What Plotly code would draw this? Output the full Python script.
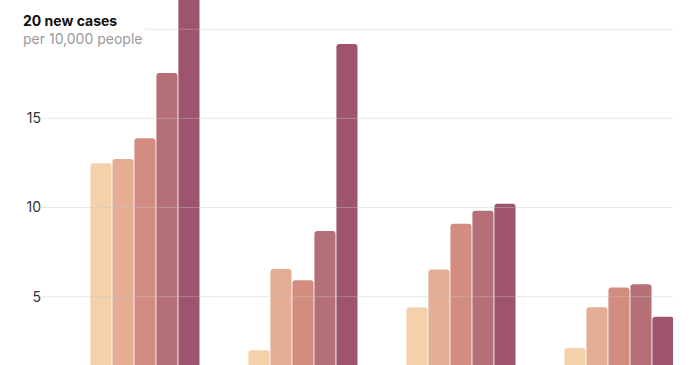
import plotly.graph_objects as go

groups = ["A", "B", "C", "D"]
series_names = ["s1", "s2", "s3", "s4", "s5"]
values = [
    [12.48, 2.0, 4.40, 2.12],
    [12.72, 6.55, 6.53, 4.40],
    [13.88, 5.92, 9.09, 5.52],
    [17.54, 8.68, 9.82, 5.69],
    [22.5, 19.17, 10.21, 3.88],
]
colors = ["#f5d1ab", "#e3ae94", "#d28d80", "#b56f76", "#9e536e"]
tick_vals = [5, 10, 15]
grid_vals = [5, 10, 15, 20]

fig = go.Figure()
for name, vals, col in zip(series_names, values, colors):
    fig.add_trace(go.Bar(x=groups, y=vals, name=name, marker=dict(color=col, line=dict(width=0)),
                         hoverinfo="skip"))

shapes = []
for g in grid_vals:
    shapes.append(dict(type="line", xref="paper", x0=0, x1=1, yref="y", y0=g, y1=g,
                       line=dict(color="rgba(200,200,200,0.4)", width=1), layer="above"))

fig.update_layout(
    width=696, height=365,
    margin=dict(l=38, r=23, t=0, b=0),
    paper_bgcolor="white", plot_bgcolor="white",
    barmode="group", bargap=0.304, bargroupgap=0.04, barcornerradius=3,
    showlegend=False,
    font=dict(family="Inter", size=14, color="#333"),
    xaxis=dict(range=[-0.677, 3.342], showticklabels=False, showgrid=False, zeroline=False,
               showline=False, ticks="", automargin=False),
    yaxis=dict(range=[1.167, 21.64], tickvals=tick_vals, ticktext=[str(v) for v in tick_vals],
               showgrid=False, zeroline=False, showline=False, ticks="", automargin=False,
               ticklabelstandoff=-4,
               tickfont=dict(family="Inter", size=14, color="#333")),
    shapes=shapes,
    annotations=[dict(
        xref="paper", yref="paper", x=(20 - 38) / 635, y=1 - 29 / 365,
        xanchor="left", yanchor="middle", align="left", showarrow=False,
        bgcolor="white", borderpad=2,
        text="<b>20 new cases</b><br><span style='color:#999'>per 10,000 people</span>",
        font=dict(family="Inter", size=14, color="#111"),
    )],
)

fig.write_html("out.html", post_script="document.body.style.margin='0';",
               config={"displayModeBar": False})
